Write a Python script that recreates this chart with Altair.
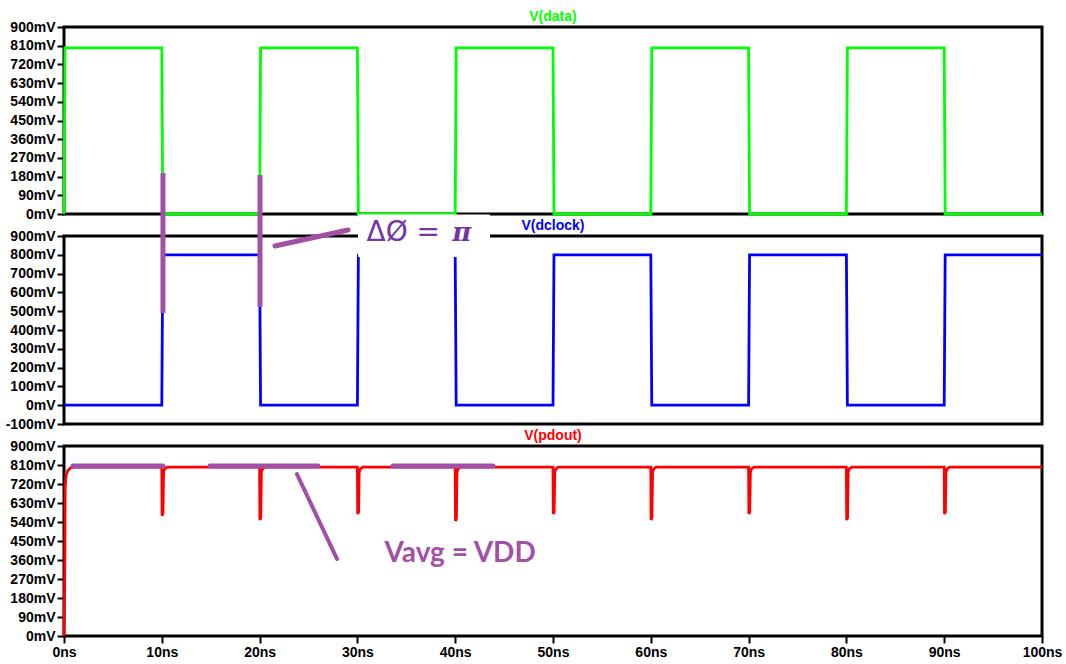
import altair as alt
import pandas as pd

# ---- waveform data (time in ns, voltage in mV) ----
edge_times_ns = [0, 10, 20, 30, 40, 50, 60, 70, 80, 90]
data_levels_mV = [800, 0, 800, 0, 800, 0, 800, 0, 800, 0]
dclock_levels_mV = [0, 800, 0, 800, 0, 800, 0, 800, 0, 800]
edge_width_ns = 0.1
end_time_ns = 100

# pdout: initial charge-up, then short glitches at every clock edge
pdout_rise_t = [0, 0.08, 0.12, 0.2, 0.4, 0.7, 1.0]
pdout_rise_mV = [0, 300, 700, 760, 785, 797, 800]
pdout_high_mV = 800
glitch_times_ns = [10, 20, 30, 40, 50, 60, 70, 80, 90]
glitch_min_mV = [570, 550, 578, 545, 578, 550, 578, 550, 578]
glitch_recover_dt = [0.18, 0.3, 0.55]
glitch_recover_mV = [775, 792, 800]

# axis tick values
time_ticks_ns = [0, 10, 20, 30, 40, 50, 60, 70, 80, 90, 100]
ticks_90mV = [0, 90, 180, 270, 360, 450, 540, 630, 720, 810, 900]
ticks_100mV = [-100, 0, 100, 200, 300, 400, 500, 600, 700, 800, 900]

# ---- annotation data ----
phase_t = [10.12, 20.04]
phase_top_mV = [1235, 1224]
phase_bottom_mV = [490, 522]
phase_pointer = {"t": [21.57], "v": [847], "t2": [29.04], "v2": [932]}
phase_box = {"t": [30.06], "t2": [43.56], "v": [1014], "v2": [788]}
avg_bar_start = [0.92, 14.93, 33.64]
avg_bar_end = [10.12, 25.97, 43.87]
avg_bar_mV = [805, 805, 805]
avg_pointer = {"t": [23.82], "v": [767], "t2": [27.91], "v2": [365]}

PURPLE = "#A24FA6"
DARK_PURPLE = "#7434A2"
FONT = "Liberation Sans"


def square_wave(levels):
    t, v = [], []
    prev = 0
    for te, lv in zip(edge_times_ns, levels):
        t += [te, te + edge_width_ns]
        v += [prev, lv]
        prev = lv
    t.append(end_time_ns)
    v.append(prev)
    return pd.DataFrame({"t": t, "v": v, "i": range(len(t))})


def pdout_wave():
    t = list(pdout_rise_t)
    v = list(pdout_rise_mV)
    for tg, vm in zip(glitch_times_ns, glitch_min_mV):
        t += [tg, tg + 0.03, tg + 0.12]
        v += [pdout_high_mV, vm, vm + 10]
        t += [tg + d for d in glitch_recover_dt]
        v += glitch_recover_mV
    t.append(end_time_ns)
    v.append(pdout_high_mV)
    return pd.DataFrame({"t": t, "v": v, "i": range(len(t))})


x_scale = alt.Scale(domain=[0, 100], nice=False, zero=False)

time_axis = alt.Axis(values=time_ticks_ns, labelExpr="datum.value + 'ns'",
                     title=None, grid=False, domain=False, tickSize=7, tickWidth=2,
                     labelPadding=2, labelFlush=False, labelOverlap=False)


def volt_axis(values):
    return alt.Axis(values=values, labelExpr="datum.value + 'mV'", title=None,
                    grid=False, domain=False, tickSize=7, tickWidth=2,
                    labelPadding=2, labelOverlap=False, labelFlush=False)


class Panel:
    """Shared x/y encodings so every layer of a panel uses the same scales and axes."""

    def __init__(self, y_domain, y_ticks, show_x):
        self.y_scale = alt.Scale(domain=y_domain, nice=False, zero=False)
        self.y_axis = volt_axis(y_ticks)
        self.x_axis = time_axis if show_x else None

    def x(self, field="t"):
        return alt.X(f"{field}:Q", scale=x_scale, axis=self.x_axis)

    def y(self, field="v"):
        return alt.Y(f"{field}:Q", scale=self.y_scale, axis=self.y_axis)


def trace(p, df, color):
    return alt.Chart(df).mark_line(color=color, strokeWidth=2.8, interpolate="linear").encode(
        x=p.x(), y=p.y(), order="i:Q")


def panel_title(p, title, color):
    return alt.Chart(pd.DataFrame({"t": [50], "v": [0], "label": [title]})).mark_text(
        color=color, font=FONT, fontSize=14, fontWeight="bold", baseline="middle", align="center"
    ).encode(x=p.x(), y=alt.value(-10), text="label:N")


p_top = Panel([0, 900], ticks_90mV, False)
p_mid = Panel([-100, 900], ticks_100mV, False)
p_bot = Panel([0, 900], ticks_90mV, True)

# phase annotation, drawn with the dclock panel so it sits above both upper panels
box = alt.Chart(pd.DataFrame(phase_box)).mark_rect(fill="white").encode(
    x=p_mid.x(), x2="t2:Q", y=p_mid.y(), y2="v2:Q")
phase_bars = alt.Chart(pd.DataFrame({"t": phase_t, "v": phase_top_mV, "v2": phase_bottom_mV})).mark_rule(
    color=PURPLE, strokeWidth=5, strokeCap="butt").encode(
    x=p_mid.x(), y=p_mid.y(), y2="v2:Q")
phase_ptr = alt.Chart(pd.DataFrame(phase_pointer)).mark_rule(
    color=PURPLE, strokeWidth=5, strokeCap="round").encode(
    x=p_mid.x(), x2="t2:Q", y=p_mid.y(), y2="v2:Q")
phase_text1 = alt.Chart(pd.DataFrame({"t": [38.45], "v": [916], "s": ["ΔØ ="]})).mark_text(
    color=DARK_PURPLE, font="DejaVu Sans", fontSize=28, fontWeight="normal", align="right", baseline="middle"
).encode(x=p_mid.x(), y=p_mid.y(), text="s:N")
phase_text2 = alt.Chart(pd.DataFrame({"t": [39.7], "v": [916], "s": ["π"]})).mark_text(
    color=DARK_PURPLE, font="DejaVu Serif", fontSize=26, fontWeight="bold", fontStyle="italic",
    align="left", baseline="middle"
).encode(x=p_mid.x(), y=p_mid.y(), text="s:N")

# average-voltage annotation on the pdout panel
avg_bars = alt.Chart(pd.DataFrame({"t": avg_bar_start, "t2": avg_bar_end, "v": avg_bar_mV})).mark_rule(
    color=PURPLE, strokeWidth=5, strokeCap="round").encode(
    x=p_bot.x(), x2="t2:Q", y=p_bot.y())
avg_ptr = alt.Chart(pd.DataFrame(avg_pointer)).mark_rule(
    color=PURPLE, strokeWidth=4, strokeCap="round").encode(
    x=p_bot.x(), x2="t2:Q", y=p_bot.y(), y2="v2:Q")
avg_text = alt.Chart(pd.DataFrame({"t": [40.5], "v": [388], "s": ["Vavg = VDD"]})).mark_text(
    color=PURPLE, font="Lato", fontSize=28, fontWeight="bold", align="center", baseline="middle"
).encode(x=p_bot.x(), y=p_bot.y(), text="s:N")

top = alt.layer(
    trace(p_top, square_wave(data_levels_mV), "#00FF00"),
    panel_title(p_top, "V(data)", "#00FF00"),
).properties(width=978, height=187)

mid = alt.layer(
    trace(p_mid, square_wave(dclock_levels_mV), "#0000FF"),
    panel_title(p_mid, "V(dclock)", "#0000FF"),
    box, phase_ptr, phase_text1, phase_text2, phase_bars,
).properties(width=978, height=188)

bot = alt.layer(
    trace(p_bot, pdout_wave(), "#FF0000"),
    panel_title(p_bot, "V(pdout)", "#FF0000"),
    avg_bars, avg_ptr, avg_text,
).properties(width=978, height=190)

chart = alt.vconcat(top, mid, bot, spacing=22, bounds="flush").resolve_scale(
    x="independent", y="independent"
).properties(
    padding={"left": 3, "top": 8, "right": 2, "bottom": 2},
    background="white",
).configure_view(
    stroke="black", strokeWidth=3
).configure_axis(
    labelFont=FONT, labelFontSize=14, labelFontWeight="bold", labelColor="black",
    tickColor="black",
)

chart.save("out.html", embed_options={"renderer": "svg", "actions": False})
